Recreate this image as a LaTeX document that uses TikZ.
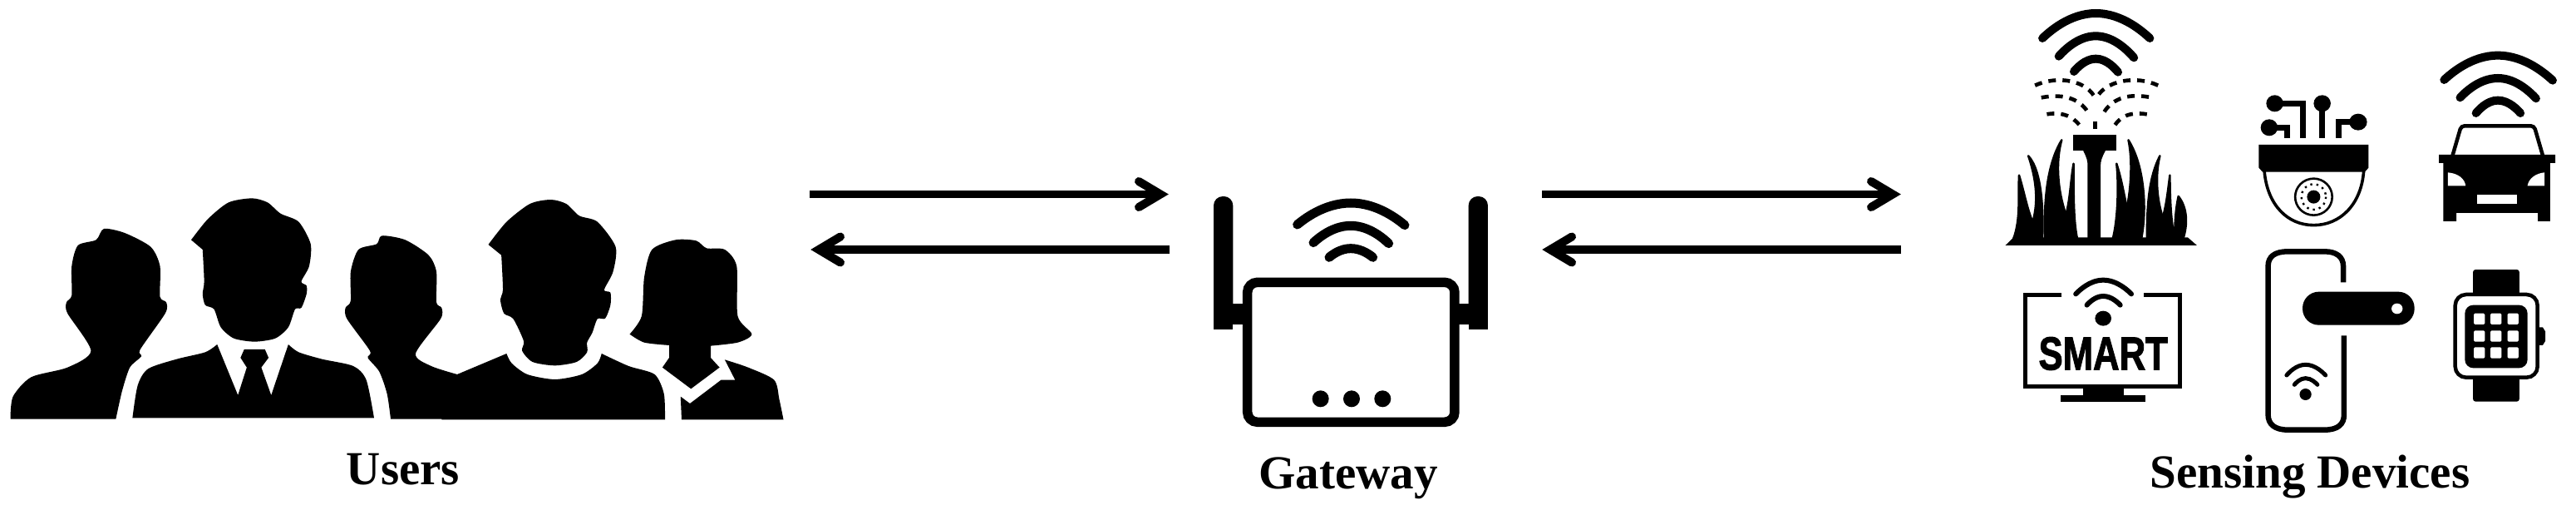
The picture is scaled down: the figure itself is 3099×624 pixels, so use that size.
\documentclass[tikz,border=0pt]{standalone}
\usepackage{graphicx}
\usepackage{fontspec}
\setmainfont{Liberation Serif}
\newfontfamily\smartfont[FakeBold=2]{Liberation Sans Bold}
\usepackage{tikz}
\usetikzlibrary{positioning}
\pgfarrowsdeclare{barb}{barb}{\pgfarrowsleftextend{-27pt}\pgfarrowsrightextend{9pt}}{
  \pgfsetlinewidth{10pt}\pgfsetroundcap\pgfsetmiterjoin
  \pgfpathmoveto{\pgfqpoint{-26pt}{15.5pt}}
  \pgfpathlineto{\pgfqpoint{0pt}{0pt}}
  \pgfpathlineto{\pgfqpoint{-26pt}{-15.5pt}}
  \pgfusepathqstroke}
\tikzset{
  lbl/.style={anchor=base,inner sep=0pt,font=\fontsize{57}{60}\selectfont\bfseries},
  link/.style={line width=9.5pt,-barb},
  wifi/.style={line cap=round},
  spray/.style={line width=4.6pt,dash pattern=on 9pt off 8pt},
  blade/.style={fill=black,draw=black,line width=2.5pt,line join=round},
  sm/.style={smooth,tension=.45},
  trace/.style={line width=7pt},
}
\begin{document}
\begin{tikzpicture}[x=1pt,y=-1pt]
\useasboundingbox (0,0) rectangle (3099,624);

% labels
\node[lbl] (users) at (485,582) {Users};
\node[lbl] (gateway) at (1622,587) {Gateway};
\node[lbl] (devices) at (2779,586) {Sensing Devices};

% link ends
\coordinate (userA) at (974,233.5);
\coordinate (gateA) at (1405,233.5);
\coordinate (gateB) at (1407,300);
\coordinate (userB) at (976,300);
\coordinate (gateC) at (1855,233.5);
\coordinate (devC) at (2286,233.5);
\coordinate (devD) at (2287,300);
\coordinate (gateD) at (1856,300);
\draw[link] (userA) -- (gateA);
\draw[link] (gateB) -- (userB);
\draw[link] (gateC) -- (devC);
\draw[link] (devD) -- (gateD);

% users
\begin{scope}[shift={(0,220)},x=.625pt,y=-.3333pt]
\fill plot[sm] coordinates {(20,851) (25,770) (60,700) (130,665) (175,605) (130,470) (128,430) (138,405) (138,300) (150,225) (185,205) (200,165) (240,180) (290,230) (308,300) (308,410) (320,430) (318,470) (270,600) (272,625) (250,665) (235,750) (223,851)} -- cycle;
\fill plot[sm] coordinates {(368,205) (400,130) (440,70) (485,55) (515,70) (540,110) (575,140) (598,220) (595,300) (580,355) (590,370) (590,400) (580,450) (568,455) (555,520) (530,560) (490,572) (450,560) (425,520) (412,455) (395,440) (390,400) (393,355) (390,240)} -- cycle;
\fill (255,847) -- plot[sm] coordinates {(255,847) (265,730) (285,670) (340,635) (395,610) (418,582)} -- (458,765) -- (475,665) -- (463,630) -- (470,600) -- (510,600) -- (517,630) -- (503,665) -- (522,765) -- plot[sm] coordinates {(555,582) (575,610) (620,635) (680,660) (705,710) (720,847)} -- cycle;
\fill plot[sm] coordinates {(752,851) (745,760) (730,680) (708,630) (712,605) (668,490) (665,450) (675,425) (675,320) (690,240) (725,220) (735,190) (780,205) (825,260) (840,320) (840,430) (850,450) (848,490) (800,615) (830,660) (880,690)} -- (900,851) -- cycle;
\fill (850,853) -- (850,700) -- (880,690) -- plot[sm] coordinates {(975,615) (985,650) (1015,690) (1068,708) (1120,690) (1150,650) (1158,615)} -- plot[sm] coordinates {(1158,615) (1210,660) (1260,690) (1278,760) (1280,853)} -- cycle;
\fill plot[sm] coordinates {(940,222) (975,140) (1020,75) (1060,60) (1090,75) (1115,118) (1150,140) (1185,230) (1180,320) (1163,385) (1175,395) (1175,440) (1165,488) (1150,490) (1140,540) (1130,575) (1130,610) (1110,645) (1068,658) (1025,645) (1005,605) (1008,570) (988,490) (970,470) (963,420) (968,385) (965,260)} -- cycle;
\fill plot[sm] coordinates {(1212,545) (1235,480) (1240,340) (1255,240) (1300,205) (1340,208) (1360,235) (1395,240) (1418,300) (1420,480) (1447,545) (1420,575) (1368,587)} -- (1368,630) -- (1385,665) -- (1330,742) -- (1275,665) -- (1288,630) -- plot[sm] coordinates {(1288,585) (1240,575) (1212,545)} -- cycle;
\fill (1312,853) -- (1310,770) -- (1328,795) -- (1388,710) -- (1415,710) -- (1395,637) -- plot[sm] coordinates {(1395,637) (1440,665) (1490,710) (1500,780) (1508,853)} -- cycle;
\end{scope}

% gateway
\begin{scope}[shift={(1400,200)},x=.3333pt,y=-.3333pt]
\fill[rounded corners=11pt] (180,588) -- (180,108) -- (250,108) -- (250,588) -- cycle;
\fill (180,588) rectangle (250,400);
\fill[rounded corners=11pt] (1100,588) -- (1100,108) -- (1170,108) -- (1170,588) -- cycle;
\fill (1100,588) rectangle (1170,400);
\fill (250,495) rectangle (290,570);
\fill (1065,495) rectangle (1100,570);
\draw[line width=11.5pt,rounded corners=12pt] (302,418) rectangle (1050,922);
\draw[wifi,line width=11pt] (482,210) parabola bend (675,132) (870,212);
\draw[wifi,line width=11pt] (540,275) parabola bend (675,214) (812,278);
\draw[wifi,line width=11pt] (597,328) parabola bend (675,296) (755,328);
\fill (566,838) circle[radius=30];
\fill (678,838) circle[radius=30];
\fill (790,838) circle[radius=30];
\end{scope}

% sprinkler
\begin{scope}[shift={(2400,0)},x=.4458pt,y=-.3333pt]
\draw[wifi,line width=10pt] (128,138) parabola bend (272,48) (418,138);
\draw[wifi,line width=10pt] (172,203) parabola bend (272,130) (375,208);
\draw[wifi,line width=10pt] (213,258) parabola bend (272,212) (332,260);
\draw[spray] (108,308) .. controls (170,270) and (250,290) .. (272,358);
\draw[spray] (440,308) .. controls (380,270) and (295,290) .. (272,358);
\draw[spray] (125,352) .. controls (190,335) and (235,360) .. (255,415);
\draw[spray] (415,350) .. controls (355,335) and (310,360) .. (290,415);
\draw[spray] (140,412) .. controls (190,400) and (220,430) .. (235,465);
\draw[spray] (410,412) .. controls (355,400) and (330,430) .. (318,465);
\draw[spray] (270,438) -- (270,470);
\fill (210,487) rectangle (327,543);
\fill (238,543) .. controls (248,570) and (250,580) .. (250,600) -- (250,860) -- (285,860) -- (285,600) .. controls (285,580) and (288,570) .. (298,543) -- cycle;
\fill (28,885) -- (50,856) -- (520,856) -- (545,885) -- cycle;
\path[blade] (50,860) .. controls (70,790) and (62,700) .. (65,632) .. controls (85,720) and (90,790) .. (125,860) -- cycle;
\path[blade] (85,860) .. controls (110,790) and (125,700) .. (90,562) .. controls (130,620) and (130,780) .. (128,860) -- cycle;
\path[blade] (135,860) .. controls (130,680) and (150,570) .. (180,505) .. controls (160,600) and (170,740) .. (220,860) -- cycle;
\path[blade] (165,860) .. controls (205,770) and (200,680) .. (212,590) .. controls (212,700) and (212,800) .. (222,860) -- cycle;
\path[blade] (318,860) .. controls (330,800) and (335,680) .. (328,590) .. controls (350,680) and (355,780) .. (380,860) -- cycle;
\path[blade] (330,860) .. controls (365,760) and (375,600) .. (360,505) .. controls (405,600) and (410,760) .. (395,860) -- cycle;
\path[blade] (410,860) .. controls (410,740) and (415,640) .. (445,562) .. controls (430,640) and (435,770) .. (480,860) -- cycle;
\path[blade] (430,860) .. controls (460,790) and (465,700) .. (472,632) .. controls (472,720) and (475,800) .. (485,860) -- cycle;
\path[blade] (485,860) .. controls (485,800) and (488,750) .. (495,708) .. controls (520,750) and (520,810) .. (508,860) -- cycle;
\end{scope}

% camera
\begin{scope}[shift={(2400,0)},x=.4458pt,y=-.3333pt]
\draw[line width=3.6pt] (727,618) .. controls (735,740) and (790,812) .. (860,812) .. controls (930,812) and (988,740) .. (995,618);
\fill (712,522) -- (1008,522) -- (1008,605) -- (998,620) -- (722,620) -- (712,605) -- cycle;
\draw[line width=2.6pt] (860,710) circle[x radius=50,y radius=66];
\draw[line width=2.4pt,dash pattern=on 2.4pt off 5pt] (860,710) circle[x radius=33,y radius=46];
\fill (860,710) circle[x radius=18,y radius=24];
\fill (755,373) circle[x radius=23,y radius=30];
\fill (740,460) circle[x radius=23,y radius=30];
\fill (883,373) circle[x radius=23,y radius=30];
\fill (980,440) circle[x radius=24,y radius=30];
\draw[trace] (755,373) -- (830,373) -- (830,498);
\draw[trace] (740,460) -- (788,460) -- (788,498);
\draw[trace] (883,373) -- (883,498);
\draw[trace] (980,440) -- (928,440) -- (928,498);
\end{scope}

% car
\begin{scope}[shift={(2400,0)},x=.4458pt,y=-.3333pt]
\draw[wifi,line width=10pt] (1212,288) parabola bend (1357,200) (1505,290);
\draw[wifi,line width=10pt] (1255,352) parabola bend (1357,282) (1460,355);
\draw[wifi,line width=10pt] (1298,408) parabola bend (1357,362) (1418,408);
\draw[line width=4.5pt,rounded corners=4pt] (1235,560) -- (1258,454) -- (1455,454) -- (1478,560);
\fill (1198,558) -- (1512,558) -- (1512,588) -- (1498,588) -- (1498,798) -- (1465,798) -- (1465,768) -- (1245,768) -- (1245,798) -- (1210,798) -- (1210,588) -- (1198,588) -- cycle;
\fill[white] (1222,622) .. controls (1250,625) and (1268,645) .. (1270,670) -- (1222,670) -- cycle;
\fill[white] (1483,622) .. controls (1458,625) and (1440,645) .. (1437,670) -- (1483,670) -- cycle;
\fill[white] (1300,703) rectangle (1408,735);
\end{scope}

% tv
\begin{scope}[shift={(2400,290)},x=.4458pt,y=-.3333pt]
\draw[line width=5pt] (180,195) -- (82,195) -- (82,525) -- (500,525) -- (500,195) -- (402,195);
\fill (237,530) rectangle (348,555);
\fill (177,555) rectangle (407,578);
\draw[wifi,line width=6pt] (218,190) parabola bend (292,140) (368,190);
\draw[wifi,line width=6pt] (248,230) parabola bend (292,198) (338,230);
\fill (292,278) circle[x radius=22,y radius=27];
\node[anchor=center,inner sep=0pt,font=\smartfont\fontsize{56}{60}\selectfont] (smart) at (292,405) {\scalebox{.78}[1]{SMART}};
\end{scope}

% lock
\begin{scope}[shift={(2400,290)},x=.4458pt,y=-.3333pt]
\draw[line width=6.5pt] (940,148) -- (940,90) .. controls (940,55) and (920,37) .. (890,37) -- (790,37) .. controls (755,37) and (737,55) .. (737,90) -- (737,625) .. controls (737,660) and (755,680) .. (790,680) -- (890,680) .. controls (925,680) and (942,660) .. (942,625) -- (942,340);
\fill[rounded corners=19.5pt] (830,182) rectangle (1132,302);
\fill[white] (1085,243) circle[x radius=15,y radius=19];
\draw[wifi,line width=5pt] (787,483) parabola bend (838,445) (892,483);
\draw[wifi,line width=5pt] (808,517) parabola bend (838,494) (870,517);
\fill (838,552) circle[x radius=16,y radius=21];
\end{scope}

% watch
\begin{scope}[shift={(2400,290)},x=.4458pt,y=-.3333pt]
\fill[rounded corners=3pt] (1290,102) rectangle (1415,200);
\fill[rounded corners=3pt] (1290,480) rectangle (1415,578);
\fill (1468,310) -- (1478,310) -- (1485,325) -- (1485,360) -- (1478,375) -- (1468,375) -- cycle;
\draw[line width=4.5pt,fill=white,rounded corners=13pt] (1242,192) rectangle (1464,491);
\fill[rounded corners=10pt] (1268,230) rectangle (1437,457);
\fill[white,rounded corners=1.5pt] (1292,260) rectangle (1322,300);
\fill[white,rounded corners=1.5pt] (1337,260) rectangle (1367,300);
\fill[white,rounded corners=1.5pt] (1383,260) rectangle (1413,300);
\fill[white,rounded corners=1.5pt] (1292,322) rectangle (1322,362);
\fill[white,rounded corners=1.5pt] (1337,322) rectangle (1367,362);
\fill[white,rounded corners=1.5pt] (1383,322) rectangle (1413,362);
\fill[white,rounded corners=1.5pt] (1292,382) rectangle (1322,422);
\fill[white,rounded corners=1.5pt] (1337,382) rectangle (1367,422);
\fill[white,rounded corners=1.5pt] (1383,382) rectangle (1413,422);
\end{scope}
\end{tikzpicture}
\end{document}
